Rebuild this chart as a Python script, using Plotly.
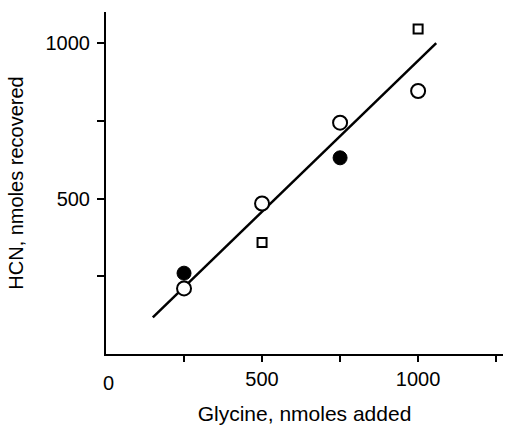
import plotly.graph_objects as go

# Data
open_circle_x = [250, 500, 750, 1000]
open_circle_y = [211, 484, 744, 846]
filled_circle_x = [250, 750]
filled_circle_y = [260, 631]
square_x = [500, 1000]
square_y = [359, 1045]
fit_x = [150, 1058]
fit_y = [118, 1000]

x_tickvals = [250, 500, 750, 1000, 1250]
x_ticktext = ["", "500", "", "1000", ""]
x_zero_label = "0"
y_tickvals = [250, 500, 750, 1000]
y_ticktext = ["", "500", "", "1000"]

FONT = "Liberation Sans"

fig = go.Figure()
fig.add_trace(go.Scatter(x=fit_x, y=fit_y, mode="lines",
                         line=dict(color="black", width=2.5), showlegend=False))
fig.add_trace(go.Scatter(x=open_circle_x, y=open_circle_y, mode="markers",
                         marker=dict(symbol="circle", size=14, color="white",
                                     line=dict(color="black", width=2)), showlegend=False))
fig.add_trace(go.Scatter(x=filled_circle_x, y=filled_circle_y, mode="markers",
                         marker=dict(symbol="circle", size=14, color="black",
                                     line=dict(color="black", width=1)), showlegend=False))
fig.add_trace(go.Scatter(x=square_x, y=square_y, mode="markers",
                         marker=dict(symbol="square", size=9, color="white",
                                     line=dict(color="black", width=2)), showlegend=False))

fig.add_annotation(x=0, y=0, xref="x", yref="paper", text=x_zero_label,
                   showarrow=False, yanchor="top", yshift=-16, xshift=2,
                   font=dict(family=FONT, size=20, color="black"))

fig.update_layout(
    width=506, height=431,
    margin=dict(l=106, r=3, t=12, b=77),
    paper_bgcolor="white", plot_bgcolor="white",
    font=dict(family=FONT, color="black"),
    xaxis=dict(range=[0, 1272], showgrid=False, zeroline=False,
               showline=True, linecolor="black", linewidth=2,
               ticks="outside", ticklen=6, tickwidth=2, tickcolor="black",
               tickvals=x_tickvals, ticktext=x_ticktext,
               tickfont=dict(family=FONT, size=20),
               title=dict(text="Glycine, nmoles added", standoff=17,
                          font=dict(family=FONT, size=21))),
    yaxis=dict(range=[0, 1100], showgrid=False, zeroline=False,
               showline=True, linecolor="black", linewidth=2,
               ticks="outside", ticklen=7, tickwidth=2, tickcolor="black",
               tickvals=y_tickvals, ticktext=y_ticktext,
               ticklabelstandoff=3,
               tickfont=dict(family=FONT, size=20),
               title=dict(text="HCN, nmoles recovered", standoff=17,
                          font=dict(family=FONT, size=20))),
)

fig.write_html("out.html")
